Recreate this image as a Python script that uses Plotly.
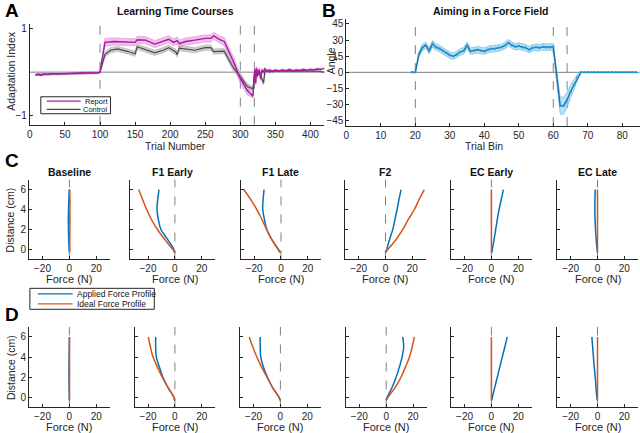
import plotly.graph_objects as go

W, H = 640, 433
FONT = "Liberation Sans, Arial, sans-serif"
INK = "#262626"
GREY = "#808080"
MAGENTA = "#a8179f"
DARK = "#4a4a4a"
BLUE = "#0072BD"
ORANGE = "#D95319"
AIM = "#1f6fa5"

# ---------------- panel A: learning time courses ----------------
trial_report = [8, 12, 16, 20, 25, 30, 40, 50, 60, 70, 80, 90, 98,
                100, 107, 120, 135, 150, 153, 165, 178, 190, 198, 205, 210, 213, 222, 235, 250,
                258, 262, 270, 277, 290, 300, 310, 318,
                320, 321, 322, 323, 325, 327, 329, 331, 333, 335, 338, 342, 346, 350, 355, 360,
                365, 370, 375, 380, 385, 390, 395, 400, 405, 410, 415, 420]
report_mean = [-0.07, -0.05, -0.06, -0.04, -0.05, -0.04, -0.04, -0.03, -0.03, -0.02, -0.02, -0.02, -0.01,
               0.0, 0.68, 0.70, 0.69, 0.68, 0.74, 0.73, 0.64, 0.70, 0.75, 0.68, 0.72, 0.65, 0.70, 0.73, 0.77,
               0.77, 0.83, 0.75, 0.70, 0.25, -0.15, -0.42, -0.55,
               -0.05, 0.06, -0.25, 0.09, -0.05, 0.06, -0.15, 0.05, 0.0, 0.07, 0.02, 0.05, 0.01, 0.05, 0.02, 0.05,
               0.03, 0.06, 0.03, 0.05, 0.04, 0.06, 0.04, 0.06, 0.05, 0.07, 0.06, 0.09]
report_sem = [0.02] * 13 + \
             [0.01, 0.09, 0.08, 0.08, 0.08, 0.08, 0.08, 0.08, 0.08, 0.08, 0.08, 0.08, 0.08, 0.08, 0.08,
              0.08, 0.08, 0.08, 0.08, 0.09, 0.10, 0.10, 0.10] + \
             [0.04] * 12 + [0.02] * 16

trial_control = [8, 12, 16, 20, 25, 30, 40, 50, 60, 70, 80, 90, 98,
                 100, 107, 115, 125, 140, 150, 153, 165, 178, 190, 198, 208, 210, 213, 222, 235, 250,
                 258, 262, 277, 290, 300, 310, 318,
                 320, 322, 324, 327, 330, 333, 335, 338, 342, 346, 350, 360, 370, 380, 390, 400,
                 410, 420]
control_mean = [-0.06, -0.05, -0.07, -0.05, -0.05, -0.04, -0.04, -0.04, -0.03, -0.03, -0.02, -0.02, -0.02,
                0.0, 0.40, 0.50, 0.53, 0.47, 0.42, 0.58, 0.52, 0.44, 0.50, 0.56, 0.46, 0.40, 0.55, 0.53,
                0.50, 0.56, 0.56, 0.47, 0.48, 0.10, -0.10, -0.33, -0.38,
                -0.10, 0.03, -0.10, 0.02, -0.12, -0.25, 0.0, 0.04, 0.0, 0.03, 0.02, 0.03, 0.03, 0.02,
                0.03, 0.02, 0.02, 0.0]
control_sem = [0.02] * 13 + \
              [0.01, 0.06, 0.06, 0.06, 0.06, 0.06, 0.06, 0.06, 0.06, 0.06, 0.06, 0.06, 0.06, 0.06,
               0.06, 0.06, 0.06, 0.06, 0.06, 0.06, 0.07, 0.07, 0.07] + \
              [0.04] * 8 + [0.02] * 10
phase_a = [100, 300, 320]

# ---------------- panel B: aiming in a force field ----------------
trial_bin = list(range(19, 85))
aim_mean = [0, 0, 16.5, 22.8, 25.3, 20, 26.5, 23.4, 22, 20, 18, 16, 15, 16.5, 19, 20, 25, 19.7, 20.3,
            21, 20.3, 19.7, 21, 22, 22, 22.8, 23.4, 25, 27.5, 25.3, 23.7, 24.4, 23.4, 22.8, 21, 22.8,
            23.4, 22.8, 23.7, 23.4, 23.4, 23.7, -4, -31, -31, -25.6, -17.8, -11.6, -4.7, 0,
            0, 0, 0, 0, 0, 0, 0, 0, 0, 0, 0, 0, 0, 0, 0, 0]
aim_sem = [0, 0.5, 2.5, 3, 3, 3, 3, 3, 3, 3, 3, 3, 3, 3, 3, 3, 3, 3, 3, 3, 3, 3, 3, 3, 3, 3,
           3, 3, 3, 3, 3, 3, 3, 3, 3, 3, 3, 3, 3, 3, 3, 3, 5, 8, 8, 7, 6, 5, 3, 0,
           0, 0, 0, 0, 0, 0, 0, 0, 0, 0, 0, 0, 0, 0, 0, 0]
phase_b = [20, 60, 64]

# ---------------- panels C and D: force profiles ----------------
distance = [-0.3, 0, 1, 2, 3, 4, 5, 6]
phases = ["Baseline", "F1 Early", "F1 Late", "F2", "EC Early", "EC Late"]
applied_c = [
    [0, -0.2, -0.5, -0.7, -0.8, -0.6, -0.4, -0.1],
    [-0.5, -0.8, -5.4, -10.4, -12.3, -13.3, -12.8, -11.8],
    [-1, -2, -6.9, -10.6, -12.3, -13.6, -13.3, -12.6],
    [0.5, 1, 3, 5.4, 7, 8.6, 10, 11.6],
    [0.5, 0.7, 2, 3.2, 4.4, 5.7, 7.3, 8.9],
    [0, -0.3, -1, -1.5, -1.8, -2, -1.9, -1.7],
]
ideal_c = [
    [0.2, 0.3, 0.3, 0.4, 0.4, 0.4, 0.4, 0.3],
    [0.5, -1.5, -7.5, -13, -17.5, -21, -24, -27],
    [0, -2, -6.9, -10.6, -14.2, -18, -22.5, -27.8],
    [-0.5, 1.7, 7.9, 12.9, 17, 21.5, 25, 28.9],
    [0, 0, 0, 0, 0, 0, 0, 0],
    [0, 0, 0, 0, 0, 0, 0, 0],
]
applied_d = [
    [0, -0.1, -0.2, -0.3, -0.3, -0.2, -0.1, 0],
    [-0.3, -0.7, -5.2, -8.9, -11.5, -13.8, -14.3, -14.3],
    [-0.3, -1, -5.9, -9.6, -12.6, -14.6, -15, -15.1],
    [0, 0.7, 4.4, 7.4, 9.8, 11.8, 13, 12.3],
    [0.3, 0.7, 2.5, 4.4, 6.2, 8.1, 10, 11.8],
    [0, -0.5, -1.1, -1.7, -2.4, -3, -3.6, -4.2],
]
ideal_d = [
    [0.1, 0.1, 0.1, 0.1, 0.1, 0.1, 0.1, 0.1],
    [0, -0.7, -5.2, -9.4, -13, -16.3, -18.2, -19.8],
    [0, -1, -5.9, -10, -14, -17.5, -20.5, -23.2],
    [0, 1.2, 6.7, 11, 14.3, 17.3, 19.3, 21],
    [0, 0, 0, 0, 0, 0, 0, 0],
    [0, 0, 0, 0, 0, 0, 0, 0],
]


def px(x):
    return x / W


def py(y):
    return 1 - y / H


def band(fig, x, mean, sem, fill, edge, xa, ya):
    upper = [m + s for m, s in zip(mean, sem)]
    lower = [m - s for m, s in zip(mean, sem)]
    fig.add_trace(go.Scatter(x=x, y=upper, mode="lines", line=dict(color=edge, width=0.6),
                             xaxis=xa, yaxis=ya, showlegend=False, hoverinfo="skip"))
    fig.add_trace(go.Scatter(x=x, y=lower, mode="lines", line=dict(color=edge, width=0.6),
                             fill="tonexty", fillcolor=fill,
                             xaxis=xa, yaxis=ya, showlegend=False, hoverinfo="skip"))


fig = go.Figure()
layout = {}
shapes = []
annotations = []


def label(text, x, y, size=11, angle=0, color=INK, xanchor="center"):
    annotations.append(dict(text=text, x=px(x), y=py(y), xref="paper", yref="paper", showarrow=False,
                            xanchor=xanchor, yanchor="middle", textangle=angle, borderpad=0,
                            font=dict(size=size, color=color, family=FONT)))


axis_common = dict(showline=True, linecolor=INK, linewidth=1, ticks="inside", ticklen=3,
                   tickcolor=INK, tickfont=dict(size=10, color=INK, family=FONT),
                   showgrid=False, zeroline=False, mirror=False)

# panel A
band(fig, trial_control, control_mean, control_sem, "rgba(190,190,190,0.75)", "#b0b0b0", "x", "y")
band(fig, trial_report, report_mean, report_sem, "rgba(226,140,220,0.55)", "#dd88d6", "x", "y")
fig.add_trace(go.Scatter(x=trial_control, y=control_mean, mode="lines", line=dict(color=DARK, width=1.2),
                         xaxis="x", yaxis="y", showlegend=False))
fig.add_trace(go.Scatter(x=trial_report, y=report_mean, mode="lines", line=dict(color=MAGENTA, width=1.4),
                         xaxis="x", yaxis="y", showlegend=False))
layout["xaxis"] = dict(axis_common, domain=[px(27), px(323)], range=[0, 420],
                       tickvals=list(range(0, 401, 50)), anchor="y")
layout["yaxis"] = dict(axis_common, domain=[py(124), py(23)], range=[-1.2, 1.1],
                       tickvals=[-1, 1], anchor="x")
shapes.append(dict(type="line", xref="x domain", yref="y", x0=0, x1=1, y0=0, y1=0,
                   line=dict(color=GREY, width=1), layer="below"))
for t in phase_a:
    shapes.append(dict(type="line", xref="x", yref="y domain", x0=t, x1=t, y0=0, y1=1,
                       line=dict(color=GREY, width=1, dash="dash"), layer="below"))

# panel B
band(fig, trial_bin, aim_mean, aim_sem, "rgba(120,200,235,0.55)", "#5ab4e0", "x2", "y2")
fig.add_trace(go.Scatter(x=trial_bin, y=aim_mean, mode="lines+markers", line=dict(color=AIM, width=1.4),
                         marker=dict(size=2.5, color="#2a9ad6"),
                         xaxis="x2", yaxis="y2", showlegend=False))
layout["xaxis2"] = dict(axis_common, domain=[px(345), px(639.5)], range=[0, 85],
                        tickvals=list(range(0, 81, 10)), anchor="y2")
layout["yaxis2"] = dict(axis_common, domain=[py(125.4), py(17.6)], range=[-50, 50],
                        tickvals=list(range(-45, 46, 15)), anchor="x2")
shapes.append(dict(type="line", xref="x2 domain", yref="y2", x0=0, x1=1, y0=0, y1=0,
                   line=dict(color=GREY, width=1), layer="below"))
for t in phase_b:
    shapes.append(dict(type="line", xref="x2", yref="y2 domain", x0=t, x1=t, y0=0, y1=1,
                       line=dict(color=GREY, width=1, dash="dash"), layer="below"))

# panels C and D
zero_c = [66.7, 172.7, 279.3, 384.3, 490.7, 597.3]
zero_d = [66.7, 172.7, 278.7, 385, 490.7, 597.3]
rows = [(applied_c, ideal_c, zero_c, 179, 259, 3), (applied_d, ideal_d, zero_d, 326.6, 407.4, 9)]
for applied, ideal, zeros, top, bottom, first in rows:
    for i, name in enumerate(phases):
        n = first + i
        xa, ya = f"x{n}", f"y{n}"
        fig.add_trace(go.Scatter(x=applied[i], y=distance, mode="lines", line=dict(color=BLUE, width=1.5, shape="spline"),
                                 xaxis=xa, yaxis=ya, showlegend=False))
        fig.add_trace(go.Scatter(x=ideal[i], y=distance, mode="lines", line=dict(color=ORANGE, width=1.5, shape="spline"),
                                 xaxis=xa, yaxis=ya, showlegend=False))
        lo = -33.5 if (first == 3 and i == 1) else -30
        left = zeros[i] + lo * 1.35
        right = zeros[i] + 30 * 1.35
        layout[f"xaxis{n}"] = dict(axis_common, domain=[px(left), px(right)], range=[lo, 30],
                                   tickvals=[-20, 0, 20], anchor=ya)
        layout[f"yaxis{n}"] = dict(axis_common, domain=[py(bottom), py(top)], range=[-1, 7],
                                   tickvals=[0, 2, 4, 6], showticklabels=(i == 0), anchor=xa)
        shapes.append(dict(type="line", xref=xa, yref=f"{ya} domain", x0=0, x1=0, y0=0, y1=1,
                           line=dict(color=GREY, width=1, dash="dash"), layer="below"))
        label("Force (N)", zeros[i], bottom + 19.5)
        if first == 3:
            label(f"<b>{name}</b>", (left + right) / 2, 171, 10.5, color="#111")
    label("Distance (cm)", 8, (top + bottom) / 2, 10.5, angle=-90)

# titles and labels
label("<b>Learning Time Courses</b>", 173, 10, 10.5, color="#111")
label("<b>Aiming in a Force Field</b>", 490, 10, 10.5, color="#111")
label("Trial Number", 173, 145.5, 10.5)
label("Trial Bin", 483, 145.5, 10.5)
label("Adaptation Index", 8, 70, 10.5, angle=-90)
label("Angle", 329, 60, 10.5, angle=-90)
for letter, x, y in [("A", 9, 10), ("B", 328, 10), ("C", 9, 160), ("D", 9, 314)]:
    label(f"<b>{letter}</b>", x, y, 19, color="#000")

# legend boxes
shapes.append(dict(type="rect", xref="paper", yref="paper", x0=px(38), x1=px(108), y0=py(113), y1=py(96),
                   line=dict(color=INK, width=1), fillcolor="white"))
for name, color, y in [("Report", MAGENTA, 100.3), ("Control", DARK, 108.7)]:
    shapes.append(dict(type="line", xref="paper", yref="paper", x0=px(44), x1=px(78), y0=py(y), y1=py(y),
                       line=dict(color=color, width=1.3)))
    label(name, 106, y, 7.5, color="#111", xanchor="right")

shapes.append(dict(type="rect", xref="paper", yref="paper", x0=px(27), x1=px(152), y0=py(309), y1=py(288),
                   line=dict(color=INK, width=1), fillcolor="white"))
for name, color, y in [("Applied Force Profile", BLUE, 293.5), ("Ideal Force Profile", ORANGE, 303.5)]:
    shapes.append(dict(type="line", xref="paper", yref="paper", x0=px(35), x1=px(70), y0=py(y), y1=py(y),
                       line=dict(color=color, width=1.3)))
    label(name, 73, y, 8.5, color="#111", xanchor="left")

fig.update_layout(width=W, height=H, margin=dict(l=0, r=0, t=0, b=0),
                  paper_bgcolor="white", plot_bgcolor="white", showlegend=False,
                  font=dict(family=FONT, color=INK), shapes=shapes, annotations=annotations,
                  **layout)
fig.write_html("out.html", config={"displayModeBar": False},
               post_script="document.body.style.margin='0';")
